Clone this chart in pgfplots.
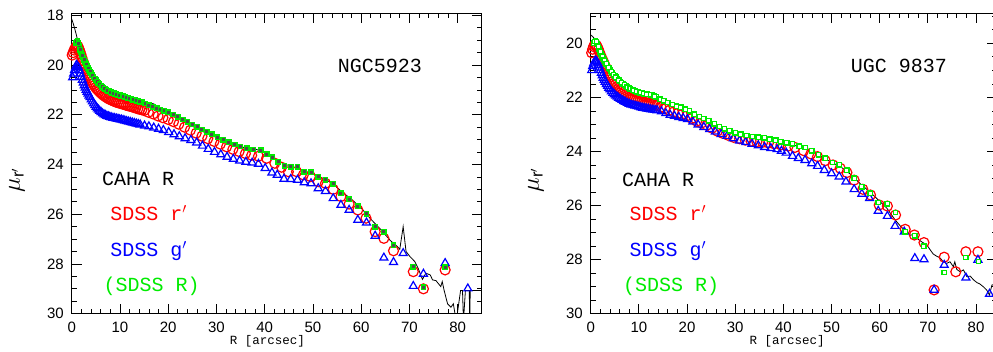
\documentclass[border=0pt]{standalone}
\usepackage{pgfplots}
\pgfplotsset{compat=1.18}
\usepackage{fontspec}
\setmainfont{Liberation Sans}
\newfontfamily\monofont{Liberation Mono}
\definecolor{sred}{rgb}{1,0,0}
\definecolor{sblue}{rgb}{0,0,1}
\definecolor{sgreen}{rgb}{0,0.92,0}
\pgfplotsset{
  galaxy/.style={
    scale only axis, height=300.4pt, y dir=reverse,
    xmin=0, ymax=30,
    xtick={0,10,...,80}, minor x tick num=4,
    ytick={18,20,...,30}, minor y tick num=3,
    tick align=inside, major tick length=10pt, minor tick length=5pt,
    xtick pos=both, ytick pos=both,
    xticklabel pos=bottom, yticklabel pos=left,
    tick label style={font=\fontsize{15}{15}\selectfont},
    /pgf/number format/assume math mode=true,
    yticklabel style={xshift=-4.4pt},
    xticklabel style={yshift=-5pt},
    axis line style={line width=0.8pt},
    major tick style={line width=0.8pt, black},
    minor tick style={line width=0.7pt, black},
    clip=true,
  },
  redc/.style={only marks, mark=o, mark size=5pt, mark options={draw=sred, line width=1.2pt}},
  bluet/.style={only marks, mark=triangle, mark size=4.6pt, mark options={draw=sblue, line width=1.2pt}},
  greens/.style={only marks, mark=square*, mark size=2.2pt, mark options={draw=sgreen, fill=#1, line width=1.4pt}},
}
\begin{document}
\begin{tikzpicture}
\path[use as bounding box] (0pt,0pt) rectangle (993pt,352pt);
% ---------------- left panel : NGC5923 ----------------
\begin{axis}[galaxy, at={(71.7pt,38.3pt)}, anchor=south west, width=410.1pt, xmax=85, ymin=17.92]
\addplot[black, line width=0.8pt] coordinates {
(0,18.15) (0.3,18.32) (0.6,18.52) (0.9,18.74) (1.2,18.98) (1.6,19.22) (2.0,19.45) (2.5,19.68)
(3.0,19.90) (3.5,20.10) (4.0,20.28) (5.0,20.55) (6.0,20.78) (7.0,20.95) (8.0,21.06) (9.0,21.13)
(10.0,21.20) (11.0,21.27) (12.0,21.33) (13.0,21.39) (14.0,21.45) (15.0,21.50) (16.0,21.53) (17.0,21.56)
(18.0,21.70) (19.0,21.80) (20.0,21.88) (22.0,22.07) (24.0,22.27) (26.0,22.47) (28.0,22.67) (30.0,22.87)
(32.0,23.07) (34.0,23.23) (36.0,23.33) (38.0,23.38) (40.0,23.50) (42.0,23.75) (44.0,23.98) (46.0,24.10)
(48.0,24.25) (50.0,24.38) (52.0,24.55) (54.0,24.75) (56.0,25.10) (58.0,25.40) (60.0,25.75) (62.0,26.20)
(64.0,26.60) (66.0,27.05) (67.5,27.30) (68.0,27.41) (68.7,26.50) (69.3,27.50) (70.1,27.70) (71.1,27.90)
(71.8,28.17) (72.7,28.62) (73.4,28.37) (74.3,28.44) (74.8,28.64) (75.5,28.67) (76.5,28.91) (76.8,28.71)
(77.2,29.07) (77.9,29.60) (78.6,29.74) (79.1,29.60) (79.7,30.30) (80.6,29.07) (81.0,29.07) (81.2,30.30)
(81.6,29.07) (82.4,29.07) (82.5,30.30) (82.6,29.07) (85.0,29.07)
};
\addplot[redc] coordinates {
(0.1,19.60) (0.5,19.40) (0.9,19.27) (1.3,19.25) (1.7,19.45) (2.1,19.70) (2.5,19.93) (2.9,20.13)
(3.3,20.32) (3.7,20.50) (4.2,20.68) (4.7,20.83) (5.2,20.96) (5.7,21.06) (6.3,21.17) (6.9,21.26)
(7.5,21.34) (8.1,21.40) (8.8,21.46) (9.5,21.51) (10.2,21.55) (10.9,21.59) (11.7,21.64) (12.5,21.68)
(13.3,21.73) (14.1,21.78) (15.0,21.83) (15.9,21.90) (16.9,21.97) (17.9,22.05) (18.9,22.12) (20.0,22.19)
(21.1,22.28) (22.2,22.38) (23.4,22.50) (24.6,22.62) (25.8,22.74) (27.0,22.86) (28.2,22.96) (29.5,23.07)
(30.8,23.18) (32.1,23.29) (33.4,23.39) (34.7,23.48) (36.0,23.56) (37.3,23.63) (38.7,23.67) (40.4,23.75)
(42.1,23.95) (43.5,24.11) (44.9,24.29) (46.6,24.29) (48.0,24.42) (49.5,24.49) (51.1,24.69) (52.6,24.76)
(54.2,25.00) (55.8,25.29) (57.5,25.59) (59.3,25.83) (61.0,26.16) (62.9,26.70) (64.7,26.97) (66.7,27.47)
(70.8,28.31) (72.9,29.00) (77.4,28.24)
(0.3,19.50) (0.7,19.33) (1.1,19.26) (1.5,19.35) (1.9,19.57) (2.3,19.82) (2.7,20.03) (3.1,20.23)
(3.5,20.41) (3.95,20.59) (4.45,20.76) (4.95,20.90) (5.45,21.01) (6.0,21.12) (6.6,21.22) (7.2,21.30)
(7.8,21.37) (8.45,21.43) (9.15,21.49) (9.85,21.53) (10.55,21.57) (11.3,21.62) (12.1,21.66) (12.9,21.71)
(13.7,21.76) (14.55,21.80)
};
\addplot[bluet] coordinates {
(0.2,20.50) (0.6,20.20) (1.0,20.00) (1.4,20.10) (1.8,20.35) (2.2,20.60) (2.6,20.82) (3.0,21.00)
(3.4,21.15) (3.8,21.30) (4.3,21.47) (4.8,21.62) (5.3,21.75) (5.8,21.85) (6.4,21.95) (7.0,22.02)
(7.6,22.07) (8.2,22.11) (8.9,22.14) (9.6,22.17) (10.3,22.20) (11.0,22.24) (11.8,22.28) (12.6,22.32)
(13.4,22.36) (14.2,22.40) (15.1,22.44) (16.0,22.47) (17.0,22.52) (18.0,22.57) (19.0,22.62) (20.1,22.70)
(21.2,22.79) (22.3,22.87) (23.5,22.95) (24.7,23.02) (25.9,23.12) (27.1,23.25) (28.3,23.38) (29.6,23.50)
(30.9,23.60) (32.2,23.70) (33.5,23.78) (34.8,23.85) (36.1,23.90) (37.4,23.93) (38.7,23.98) (40.1,24.15)
(41.5,24.33) (42.6,24.42) (44.0,24.58) (45.4,24.59) (46.8,24.62) (48.2,24.72) (49.6,24.76) (51.1,24.96)
(52.6,25.07) (54.2,25.36) (55.8,25.63) (57.5,25.83) (59.3,26.23) (61.1,26.34) (62.9,26.87) (64.7,27.75)
(66.7,27.93) (68.7,27.57) (70.8,28.89) (72.9,28.40) (77.4,27.97) (82.1,28.99)
(0.4,20.35) (0.8,20.10) (1.2,20.05) (1.6,20.22) (2.0,20.48) (2.4,20.71) (2.8,20.91) (3.2,21.08)
(3.6,21.23) (4.05,21.39) (4.55,21.55) (5.05,21.69) (5.55,21.80) (6.1,21.90) (6.7,21.99) (7.3,22.05)
(7.9,22.09) (8.55,22.13) (9.25,22.16) (9.95,22.19) (10.65,22.22) (11.4,22.26) (12.2,22.30) (13.0,22.34)
(13.8,22.38)
};
\addplot[greens=black!70] coordinates {
(0.8,19.12) (1.2,19.03) (1.6,19.25) (2.0,19.50) (2.4,19.70) (2.8,19.88) (3.2,20.05) (3.6,20.20)
(4.0,20.33) (4.5,20.48) (5.0,20.60) (5.5,20.72) (6.0,20.82) (6.6,20.92) (7.2,21.00) (7.8,21.06)
(8.4,21.11) (9.0,21.15) (9.6,21.19) (10.3,21.24) (11.0,21.28) (11.7,21.33) (12.4,21.37) (13.1,21.42)
(13.8,21.46) (14.5,21.50) (15.2,21.55) (16.0,21.61) (16.8,21.68) (17.6,21.74) (18.4,21.79) (19.2,21.84)
(20.0,21.90) (21.0,21.99) (22.0,22.09) (23.0,22.19) (24.0,22.29) (25.0,22.39) (26.0,22.49) (27.0,22.59)
(28.0,22.68) (29.0,22.78) (30.2,22.90) (31.4,23.01) (32.6,23.11) (33.8,23.20) (35.0,23.28) (36.3,23.35)
(37.6,23.40) (39.2,23.42) (40.4,23.58) (41.6,23.71) (42.8,23.89) (44.1,24.05) (45.4,24.09) (46.8,24.09)
(48.2,24.29) (49.6,24.31) (51.1,24.49) (52.6,24.62) (54.2,24.78) (55.8,25.16) (57.5,25.39) (59.3,25.67)
(61.1,25.99) (62.9,26.50) (64.7,26.70) (66.7,27.24) (70.8,28.11) (72.9,28.94) (77.4,28.13)
(1.0,19.06) (1.4,19.13) (1.8,19.38) (2.2,19.60) (2.6,19.79) (3.0,19.97) (3.4,20.13) (3.8,20.27)
(4.25,20.41) (4.75,20.54) (5.25,20.66) (5.75,20.77) (6.3,20.87) (6.9,20.96) (7.5,21.03) (8.1,21.09)
(8.7,21.13) (9.3,21.17) (9.95,21.22) (10.65,21.26) (11.35,21.31) (12.05,21.35) (12.75,21.40) (13.45,21.44)
(14.15,21.48)
};
\end{axis}
% ---------------- right panel : UGC 9837 ----------------
\begin{axis}[galaxy, at={(590.7pt,38.3pt)}, anchor=south west, width=406pt, xmax=84.3, ymin=18.89]
\addplot[black, line width=0.8pt] coordinates {
(0,19.69) (0.4,19.75) (0.9,19.85) (1.4,20.00) (2.0,20.30) (2.6,20.52) (3.2,20.72) (4.0,20.95)
(5.0,21.20) (6.0,21.38) (7.0,21.52) (8.0,21.65) (9.0,21.74) (10.0,21.80) (11.0,21.85) (12.0,21.88)
(13.0,21.93) (14.0,22.02) (15.0,22.12) (16.0,22.20) (17.0,22.26) (18.0,22.33) (19.0,22.39) (20.0,22.46)
(22.0,22.66) (24.0,22.83) (26.0,23.03) (28.0,23.20) (30.0,23.33) (32.0,23.42) (34.0,23.48) (36.0,23.53)
(38.0,23.60) (40.0,23.68) (42.0,23.76) (44.0,23.86) (46.0,24.00) (48.0,24.20) (50.0,24.40) (52.0,24.58)
(54.0,24.85) (56.0,25.20) (58.0,25.50) (60.1,25.86) (61.5,26.10) (63.2,26.53) (64.5,26.80) (65.6,26.97)
(66.4,27.10) (67.2,27.05) (68.0,27.25) (68.8,27.35) (69.8,27.46) (70.5,27.64) (71.1,27.79) (71.8,27.87)
(72.5,27.93) (73.2,28.08) (73.9,28.14) (74.6,28.08) (75.3,28.26) (75.6,28.08) (76.0,28.36) (76.7,28.45)
(77.4,28.38) (78.1,28.63) (78.8,28.61) (79.5,28.75) (80.2,28.85) (80.8,28.90) (81.5,29.00) (82.2,29.12)
(82.8,29.31) (83.3,28.94) (84.3,28.90)
};
\addplot[redc] coordinates {
(0.2,20.35) (0.6,20.12) (1.0,20.05) (1.4,20.15) (1.8,20.33) (2.3,20.55) (2.8,20.75) (3.2,20.92)
(3.7,21.10) (4.2,21.25) (4.7,21.40) (5.2,21.52) (5.8,21.65) (6.4,21.76) (7.0,21.85) (7.7,21.95)
(8.4,22.02) (9.1,22.08) (9.8,22.12) (10.6,22.16) (11.4,22.19) (12.2,22.22) (13.0,22.25) (13.8,22.30)
(14.6,22.36) (15.4,22.42) (16.3,22.48) (17.2,22.54) (18.1,22.59) (19.0,22.63) (20.0,22.68) (21.0,22.78)
(22.0,22.88) (23.0,22.95) (24.1,23.03) (25.2,23.14) (26.3,23.25) (27.4,23.33) (28.5,23.40) (29.7,23.48)
(30.9,23.53) (32.1,23.58) (33.3,23.62) (34.5,23.64) (35.7,23.66) (36.9,23.69) (38.1,23.72) (39.5,23.76)
(41.0,23.80) (42.4,23.85) (44.2,23.97) (45.7,24.09) (47.1,24.19) (48.7,24.34) (50.3,24.50) (51.8,24.62)
(53.2,24.78) (54.7,25.06) (56.5,25.40) (58.1,25.61) (59.9,25.98) (61.6,26.02) (63.3,26.35) (65.3,26.88)
(67.2,27.09) (69.2,27.37) (71.3,29.12) (73.4,27.91) (75.8,28.45) (77.9,27.71) (80.4,27.71)
(0.4,20.22) (0.8,20.07) (1.2,20.08) (1.6,20.23) (2.05,20.44) (2.55,20.65) (3.0,20.84) (3.45,21.01)
(3.95,21.18) (4.45,21.33) (4.95,21.46) (5.5,21.59) (6.1,21.71) (6.7,21.81) (7.35,21.90) (8.05,21.99)
(8.75,22.05) (9.45,22.10) (10.2,22.14) (11.0,22.18) (11.8,22.21) (12.6,22.24) (13.4,22.28)
};
\addplot[bluet] coordinates {
(0.2,21.00) (0.6,20.75) (1.0,20.65) (1.4,20.72) (1.8,20.90) (2.2,21.10) (2.6,21.28) (3.0,21.43)
(3.5,21.58) (4.0,21.71) (4.6,21.84) (5.2,21.94) (5.8,22.02) (6.5,22.10) (7.2,22.17) (8.0,22.24)
(8.8,22.29) (9.6,22.33) (10.4,22.37) (11.2,22.40) (12.0,22.43) (12.9,22.46) (13.8,22.48) (14.7,22.52)
(15.6,22.59) (16.5,22.65) (17.4,22.69) (18.3,22.73) (19.2,22.77) (20.1,22.81) (21.2,22.90) (22.3,23.01)
(23.5,23.10) (24.7,23.18) (25.9,23.27) (27.1,23.36) (28.3,23.43) (29.6,23.52) (30.9,23.60) (32.2,23.66)
(33.5,23.72) (34.8,23.78) (36.1,23.84) (37.4,23.88) (38.7,23.92) (39.6,23.98) (40.6,24.05) (41.9,24.17)
(43.1,24.25) (44.5,24.32) (45.9,24.44) (47.1,24.54) (48.5,24.69) (50.0,24.81) (51.6,24.93) (53.0,25.12)
(54.7,25.40) (56.3,25.57) (57.9,25.73) (59.7,26.20) (61.6,26.39) (63.2,26.76) (65.1,26.97) (67.3,27.95)
(69.2,27.99) (71.3,29.12) (73.4,28.20) (77.9,28.67) (80.4,28.01) (82.8,29.27)
(0.4,20.85) (0.8,20.68) (1.2,20.67) (1.6,20.80) (2.0,21.00) (2.4,21.19) (2.8,21.36) (3.25,21.51)
(3.75,21.65) (4.3,21.78) (4.9,21.89) (5.5,21.98) (6.15,22.06) (6.85,22.14) (7.6,22.21) (8.4,22.27)
(9.2,22.31) (10.0,22.35) (10.8,22.39) (11.6,22.42) (12.45,22.45) (13.35,22.47)
};
\addplot[greens=white] coordinates {
(0.6,20.00) (1.0,19.90) (1.4,20.02) (1.8,20.22) (2.2,20.40) (2.6,20.55) (3.0,20.68) (3.5,20.83)
(4.0,20.97) (4.5,21.10) (5.0,21.21) (5.5,21.30) (6.1,21.41) (6.7,21.50) (7.3,21.58) (7.9,21.65)
(8.5,21.71) (9.2,21.77) (9.9,21.81) (10.6,21.85) (11.3,21.87) (12.0,21.89) (12.8,21.92) (13.6,21.98)
(14.4,22.07) (15.2,22.13) (16.0,22.19) (16.9,22.26) (17.8,22.32) (18.7,22.37) (19.6,22.43) (20.5,22.50)
(21.5,22.62) (22.5,22.71) (23.5,22.78) (24.5,22.86) (25.6,22.98) (26.7,23.08) (27.8,23.16) (28.9,23.24)
(30.0,23.31) (31.2,23.36) (32.4,23.41) (33.6,23.45) (34.8,23.47) (36.0,23.50) (37.2,23.54) (38.4,23.58)
(39.5,23.64) (40.7,23.68) (41.9,23.72) (43.3,23.80) (44.5,23.85) (45.9,23.97) (47.3,24.13) (48.7,24.25)
(50.2,24.41) (51.6,24.50) (53.2,24.69) (54.7,24.99) (56.3,25.30) (58.0,25.55) (59.7,25.89) (61.6,25.94)
(63.3,26.26) (65.3,26.97) (67.3,27.12) (69.2,27.51) (73.4,28.48) (77.9,27.92) (80.5,28.07)
(0.8,19.93) (1.2,19.94) (1.6,20.12) (2.0,20.31) (2.4,20.48) (2.8,20.62) (3.25,20.76) (3.75,20.90)
(4.25,21.04) (4.75,21.16) (5.25,21.26) (5.8,21.36) (6.4,21.46) (7.0,21.54) (7.6,21.62) (8.2,21.68)
(8.85,21.74) (9.55,21.79) (10.25,21.83) (10.95,21.86) (11.65,21.88) (12.4,21.90) (13.2,21.95)
};
\end{axis}
% ---------------- texts ----------------
\tikzset{ann/.style={anchor=base west, inner sep=0pt, font={\fontsize{20}{24}\monofont}}}
\node[anchor=base, inner sep=0pt, font={\fontsize{20}{24}\monofont}] at (380pt,279.3pt) {NGC5923};
\node[ann] at (101.8pt,166pt) {CAHA R};
\node[ann, text=sred] at (110.2pt,131pt) {SDSS r$'$};
\node[ann, text=sblue] at (110.2pt,95.3pt) {SDSS g$'$};
\node[ann, text=sgreen] at (103.5pt,60.3pt) {(SDSS R)};
\node[anchor=base, inner sep=0pt, font={\fontsize{20}{24}\monofont}] at (898.8pt,279.3pt) {UGC 9837};
\node[ann] at (621.8pt,165.3pt) {CAHA R};
\node[ann, text=sred] at (629.5pt,131pt) {SDSS r$'$};
\node[ann, text=sblue] at (629.5pt,95.3pt) {SDSS g$'$};
\node[ann, text=sgreen] at (622.8pt,60.3pt) {(SDSS R)};
\node[anchor=base, inner sep=0pt, font={\fontsize{12.5}{14}\monofont}] at (267.5pt,7pt) {R [arcsec]};
\node[anchor=base, inner sep=0pt, font={\fontsize{12.5}{14}\monofont}] at (787pt,7pt) {R [arcsec]};
\node[rotate=90, inner sep=0pt, font=\fontsize{24}{26}\selectfont] at (17pt,172pt) {$\mu_{\mathrm{r}'}$};
\node[rotate=90, inner sep=0pt, font=\fontsize{24}{26}\selectfont] at (536pt,172pt) {$\mu_{\mathrm{r}'}$};
\end{tikzpicture}
\end{document}
